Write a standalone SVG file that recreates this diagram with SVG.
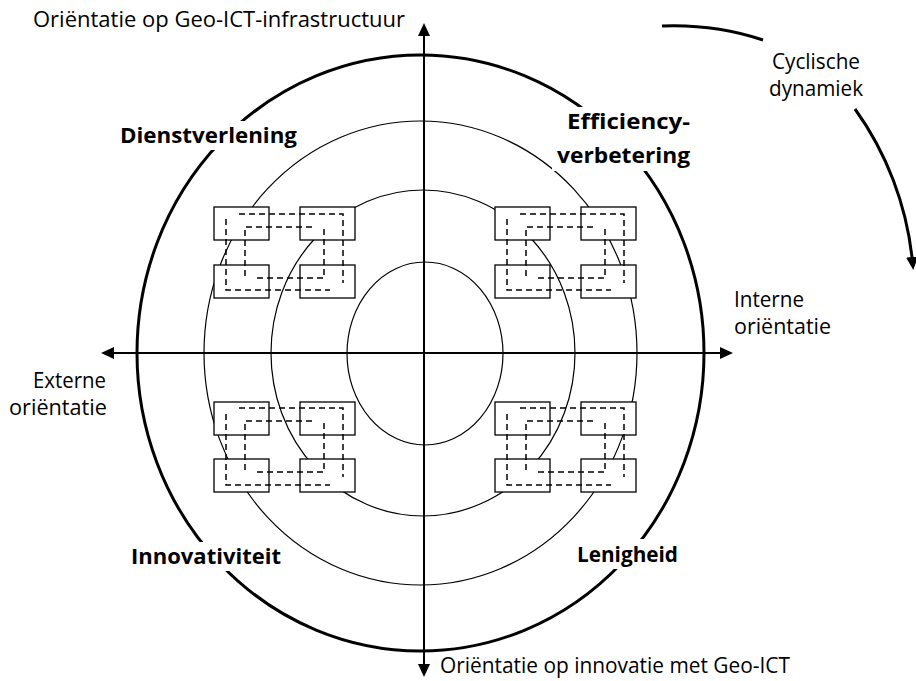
<svg xmlns="http://www.w3.org/2000/svg" width="916" height="681" viewBox="0 0 916 681">
<style>
.ring{fill:none;stroke:#000;stroke-width:1.2}
.outer{fill:none;stroke:#000;stroke-width:3}
.box{fill:#fff;stroke:#000;stroke-width:1.3}
.dash{fill:none;stroke:#000;stroke-width:1.5;stroke-dasharray:6 4}
.axis{fill:none;stroke:#000;stroke-width:2}
.cyc{fill:none;stroke:#000;stroke-width:3}
.t{font-family:"Open Sans","Liberation Sans",Arial,sans-serif;font-size:21px;fill:#000}
.b{font-family:"Open Sans","Liberation Sans",Arial,sans-serif;font-size:22px;font-weight:bold;fill:#000}
.bg{fill:#fff}
</style>
<defs>
<marker id="ah" viewBox="0 0 13 12" refX="5" refY="6" markerWidth="13" markerHeight="12" markerUnits="userSpaceOnUse" orient="auto-start-reverse">
<path d="M0,0 L13,6 L0,12 z" fill="#000"/>
</marker>
</defs>
<rect width="916" height="681" fill="#fff"/>
<g id="rings">
<ellipse class="outer" cx="420.5" cy="353" rx="283.5" ry="298"/>
<ellipse class="ring" cx="420.5" cy="353" rx="216.5" ry="232"/>
<ellipse class="ring" cx="423" cy="353" rx="152" ry="163"/>
<ellipse class="ring" cx="425" cy="353.5" rx="78" ry="91.5"/>
</g>
<g id="cluster-tl" transform="translate(214,207)">
<rect class="box" x="0" y="0" width="55" height="33"/>
<rect class="box" x="86" y="0" width="55" height="33"/>
<rect class="box" x="0" y="58" width="55" height="33"/>
<rect class="box" x="86" y="58" width="55" height="33"/>
</g>
<g id="cluster-tr" transform="translate(495,207)">
<rect class="box" x="0" y="0" width="55" height="33"/>
<rect class="box" x="86" y="0" width="55" height="33"/>
<rect class="box" x="0" y="58" width="55" height="33"/>
<rect class="box" x="86" y="58" width="55" height="33"/>
</g>
<g id="cluster-bl" transform="translate(214,402)">
<rect class="box" x="0" y="0" width="55" height="33"/>
<rect class="box" x="86" y="0" width="55" height="33"/>
<rect class="box" x="0" y="57" width="55" height="33"/>
<rect class="box" x="86" y="57" width="55" height="33"/>
</g>
<g id="cluster-br" transform="translate(495,402)">
<rect class="box" x="0" y="0" width="55" height="33"/>
<rect class="box" x="86" y="0" width="55" height="33"/>
<rect class="box" x="0" y="57" width="55" height="33"/>
<rect class="box" x="86" y="57" width="55" height="33"/>
</g>
<g id="connectors">
<g transform="translate(214,207)">
<path class="dash" d="M25,7 H129 V76 M12,12 V83 H116 M98,20 H31 V71 M43,71 H110 V20"/>
</g>
<g transform="translate(495,207)">
<path class="dash" d="M25,7 H129 V76 M12,12 V83 H116 M98,20 H31 V71 M43,71 H110 V20"/>
</g>
<g transform="translate(214,402)">
<path class="dash" d="M25,6 H129 V75 M12,12 V83 H116 M98,19 H31 V70 M43,70 H110 V19"/>
</g>
<g transform="translate(495,402)">
<path class="dash" d="M25,6 H129 V75 M12,12 V83 H116 M98,19 H31 V70 M43,70 H110 V19"/>
</g>
<line class="axis" x1="424" y1="31" x2="424" y2="669" marker-start="url(#ah)" marker-end="url(#ah)"/>
<line class="axis" x1="109" y1="353" x2="725" y2="353" marker-start="url(#ah)" marker-end="url(#ah)"/>
<path class="cyc" d="M662,26 Q715,24 763,40"/>
<path class="cyc" d="M855,109 C886,152 907,205 912.5,262" marker-end="url(#ah)"/>
</g>
<g id="label-dienstverlening">
<rect class="bg" x="116" y="121" width="186" height="29"/>
<text class="b" x="120" y="143" textLength="177" lengthAdjust="spacingAndGlyphs">Dienstverlening</text>
</g>
<g id="label-efficiency">
<rect class="bg" x="552" y="107" width="143" height="64"/>
<text class="b" x="567" y="129" textLength="123" lengthAdjust="spacingAndGlyphs">Efficiency-</text>
<text class="b" x="557" y="163" textLength="133" lengthAdjust="spacingAndGlyphs">verbetering</text>
</g>
<g id="label-innovativiteit">
<rect class="bg" x="126" y="542" width="160" height="29"/>
<text class="b" x="131" y="564" textLength="150" lengthAdjust="spacingAndGlyphs">Innovativiteit</text>
</g>
<g id="label-lenigheid">
<rect class="bg" x="572" y="539" width="111" height="30"/>
<text class="b" x="577" y="562" textLength="101" lengthAdjust="spacingAndGlyphs">Lenigheid</text>
</g>
<g id="axis-labels">
<text class="t" x="33" y="27" textLength="372" lengthAdjust="spacingAndGlyphs">Oriëntatie op Geo-ICT-infrastructuur</text>
<text class="t" x="440" y="673" textLength="350" lengthAdjust="spacingAndGlyphs">Oriëntatie op innovatie met Geo-ICT</text>
<text class="t" x="734" y="307" textLength="70" lengthAdjust="spacingAndGlyphs">Interne</text>
<text class="t" x="734" y="334" textLength="97" lengthAdjust="spacingAndGlyphs">oriëntatie</text>
<text class="t" x="33" y="388" textLength="73" lengthAdjust="spacingAndGlyphs">Externe</text>
<text class="t" x="9" y="415" textLength="98" lengthAdjust="spacingAndGlyphs">oriëntatie</text>
<text class="t" x="772" y="69" textLength="88" lengthAdjust="spacingAndGlyphs">Cyclische</text>
<text class="t" x="769" y="96" textLength="94" lengthAdjust="spacingAndGlyphs">dynamiek</text>
</g>
</svg>
